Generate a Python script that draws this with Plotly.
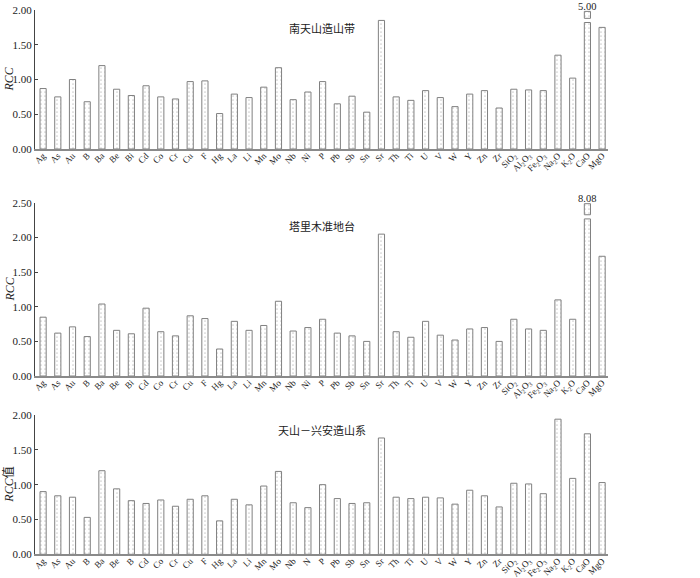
import plotly.graph_objects as go
from plotly.subplots import make_subplots

# 元素 / 氧化物
elements = ["Ag", "As", "Au", "B", "Ba", "Be", "Bi", "Cd", "Co", "Cr", "Cu", "F", "Hg",
            "La", "Li", "Mn", "Mo", "Nb", "Ni", "P", "Pb", "Sb", "Sn", "Sr", "Th", "Ti",
            "U", "V", "W", "Y", "Zn", "Zr", "SiO2", "Al2O3", "Fe2O3", "Na2O", "K2O",
            "CaO", "MgO"]
tick_labels = ["Ag", "As", "Au", "B", "Ba", "Be", "Bi", "Cd", "Co", "Cr", "Cu", "F", "Hg",
               "La", "Li", "Mn", "Mo", "Nb", "Ni", "P", "Pb", "Sb", "Sn", "Sr", "Th", "Ti",
               "U", "V", "W", "Y", "Zn", "Zr", "SiO<sub>2</sub>", "Al<sub>2</sub>O<sub>3</sub>",
               "Fe<sub>2</sub>O<sub>3</sub>", "Na<sub>2</sub>O", "K<sub>2</sub>O", "CaO", "MgO"]
# 第三幅图原图标注 (Bi→B, Ni→N)
tick_labels_3 = [("B" if e == "Bi" else "N" if e == "Ni" else t)
                 for e, t in zip(elements, tick_labels)]

panel_titles = ["南天山造山带", "塔里木准地台", "天山－兴安造山系"]
y_titles = ["<i>RCC</i>", "<i>RCC</i>", "<i>RCC</i>值"]

rcc_nantianshan = [0.87, 0.75, 1.00, 0.68, 1.20, 0.86, 0.77, 0.91, 0.75, 0.72, 0.97, 0.98, 0.51,
                   0.79, 0.74, 0.89, 1.17, 0.71, 0.82, 0.97, 0.65, 0.76, 0.53, 1.85, 0.75, 0.70,
                   0.84, 0.74, 0.61, 0.79, 0.84, 0.59, 0.86, 0.85, 0.84, 1.35, 1.02, 5.00, 1.75]
rcc_tarim = [0.85, 0.62, 0.71, 0.57, 1.04, 0.66, 0.61, 0.98, 0.64, 0.58, 0.87, 0.83, 0.39,
             0.79, 0.66, 0.73, 1.08, 0.65, 0.70, 0.82, 0.62, 0.58, 0.50, 2.05, 0.64, 0.56,
             0.79, 0.59, 0.52, 0.68, 0.70, 0.50, 0.82, 0.68, 0.66, 1.10, 0.82, 8.08, 1.73]
rcc_tianshan_xingan = [0.90, 0.84, 0.82, 0.53, 1.20, 0.94, 0.77, 0.73, 0.78, 0.69, 0.79, 0.84, 0.48,
                       0.79, 0.71, 0.98, 1.19, 0.74, 0.67, 1.00, 0.80, 0.73, 0.74, 1.67, 0.82, 0.80,
                       0.82, 0.81, 0.72, 0.92, 0.84, 0.68, 1.02, 1.01, 0.87, 1.94, 1.09, 1.73, 1.03]

series = [rcc_nantianshan, rcc_tarim, rcc_tianshan_xingan]
y_max = [2.0, 2.5, 2.0]
y_dtick = 0.5
# 截断柱: (柱顶, 小框下沿, 小框上沿, 标注上沿)
breaks = [(1.82, 1.88, 1.98, 2.14), (2.27, 2.33, 2.49, 2.66), None]

W, H = 700, 578
plot_px = [(10, 149), (203, 376), (415, 554.3)]
title_px = [28, 226, 430]

bar_marker = dict(
    color="white",
    line=dict(color="#808080", width=1),
    pattern=dict(shape=".", fgcolor="#a0a0a0", bgcolor="white", size=4, solidity=0.15),
)
serif = "Liberation Serif"

fig = make_subplots(rows=3, cols=1)

for i, (vals, ymax) in enumerate(zip(series, y_max)):
    row = i + 1
    top, bottom = plot_px[i]
    dom = [1 - bottom / H, 1 - top / H]
    brk = breaks[i]
    shown = [min(v, brk[0]) if (brk and v > ymax) else v for v in vals]
    fig.add_trace(
        go.Bar(x=elements, y=shown, width=0.42, marker=bar_marker,
               showlegend=False, cliponaxis=False),
        row=row, col=1,
    )
    if brk:
        big = [(e, v) for e, v in zip(elements, vals) if v > ymax]
        fig.add_trace(
            go.Bar(
                x=[e for e, _ in big],
                y=[brk[2] - brk[1] for _ in big],
                base=[brk[1] for _ in big],
                width=0.42, marker=bar_marker,
                showlegend=False, cliponaxis=False,
            ),
            row=row, col=1,
        )
        for e, v in big:
            fig.add_annotation(
                x=e, xref=f"x{row if row > 1 else ''}",
                y=min(1.0, dom[0] + (dom[1] - dom[0]) * brk[3] / ymax), yref="paper",
                xanchor="center", yanchor="top",
                text=f"{v:.2f}", showarrow=False, borderpad=0,
                font=dict(family=serif, size=10.5, color="#222"),
            )

    n = int(round(ymax / y_dtick))
    tickvals = [k * y_dtick for k in range(n + 1)]
    fig.update_yaxes(
        range=[0, ymax],
        tickvals=tickvals,
        ticktext=[f"{t:.2f}" for t in tickvals],
        ticks="inside", ticklen=3, tickcolor="#444",
        showline=True, linecolor="#444", linewidth=1,
        showgrid=False, zeroline=False,
        tickfont=dict(family=serif, size=11, color="#222"),
        domain=dom,
        automargin=False,
        row=row, col=1,
    )
    fig.update_xaxes(
        type="category",
        range=[-0.55, 38.4],
        tickvals=elements,
        ticktext=tick_labels_3 if i == 2 else tick_labels,
        tickangle=-45,
        ticks="",
        ticklabelstandoff=-4,
        showline=True, linecolor="#8a8a8a", linewidth=2,
        showgrid=False, zeroline=False,
        tickfont=dict(family=serif, size=9, color="#222"),
        domain=[35 / W, 608 / W],
        automargin=False,
        row=row, col=1,
    )
    fig.add_annotation(
        x=322 / W, y=1 - title_px[i] / H, xref="paper", yref="paper",
        xanchor="center", yanchor="middle",
        text=panel_titles[i], showarrow=False,
        font=dict(family="Noto Sans CJK SC", size=11, color="#222"),
    )
    fig.add_annotation(
        x=9 / W, y=1 - (top + bottom) / 2 / H, xref="paper", yref="paper",
        xanchor="center", yanchor="middle",
        text=y_titles[i], showarrow=False, textangle=-90,
        font=dict(family="Liberation Serif, Noto Sans CJK SC", size=12, color="#222"),
    )

fig.update_layout(
    width=W,
    height=H,
    margin=dict(l=0, r=0, t=0, b=0),
    paper_bgcolor="white",
    plot_bgcolor="white",
    barmode="overlay",
)

fig.write_html("out.html", config={"displayModeBar": False},
               post_script="document.body.style.margin='0';")
